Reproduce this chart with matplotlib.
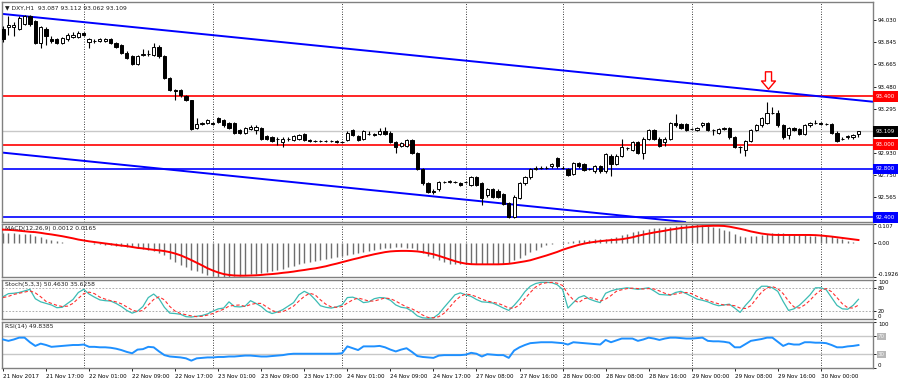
import numpy as np
import matplotlib.pyplot as plt
from matplotlib.path import Path
from matplotlib.transforms import blended_transform_factory

# DXY H1 candles, 21 Nov 09:00 .. 30 Nov 07:00 (weekend gap after bar 85)
opens = [93.96, 93.97, 93.97, 93.96, 94.00, 94.06, 94.02, 93.84, 93.96, 93.87,
         93.87, 93.84, 93.87, 93.89, 93.89, 93.92, 93.85, 93.86, 93.86, 93.86,
         93.87, 93.84, 93.82, 93.76, 93.73, 93.67, 93.74, 93.75, 93.74, 93.81,
         93.73, 93.55, 93.45, 93.45, 93.40, 93.37, 93.14, 93.17, 93.18, 93.18,
         93.22, 93.20, 93.18, 93.18, 93.12, 93.10, 93.13, 93.12, 93.14, 93.07,
         93.06, 93.05, 93.02, 93.05, 93.04, 93.05, 93.09, 93.04, 93.03, 93.03,
         93.03, 93.03, 93.03, 93.02, 93.04, 93.12, 93.07, 93.05, 93.09, 93.09,
         93.09, 93.11, 93.10, 93.02, 92.99, 92.99, 93.04, 92.93, 92.80, 92.68,
         92.62, 92.63, 92.69, 92.69, 92.69, 92.68, 92.69, 92.67, 92.73, 92.68,
         92.58, 92.63, 92.62, 92.59, 92.52, 92.40, 92.56, 92.68, 92.73, 92.80,
         92.81, 92.81, 92.82, 92.89, 92.81, 92.80, 92.76, 92.85, 92.84, 92.80,
         92.78, 92.82, 92.78, 92.91, 92.84, 92.91, 92.97, 92.96, 93.02, 92.93,
         93.05, 93.12, 93.05, 93.02, 93.05, 93.18, 93.17, 93.17, 93.13, 93.12,
         93.16, 93.18, 93.12, 93.10, 93.13, 93.14, 93.06, 92.98, 92.96, 93.03,
         93.12, 93.16, 93.18, 93.26, 93.26, 93.16, 93.08, 93.14, 93.13, 93.09,
         93.16, 93.18, 93.18, 93.17, 93.17, 93.10, 93.05, 93.06, 93.06, 93.087]
highs = [93.98, 94.06, 94.01, 94.06, 94.07, 94.07, 94.03, 93.98, 93.97, 93.90,
         93.88, 93.89, 93.92, 93.93, 93.94, 93.93, 93.88, 93.87, 93.88, 93.88,
         93.88, 93.85, 93.83, 93.77, 93.74, 93.74, 93.79, 93.78, 93.84, 93.82,
         93.74, 93.56, 93.46, 93.46, 93.41, 93.37, 93.22, 93.19, 93.21, 93.19,
         93.23, 93.21, 93.19, 93.19, 93.13, 93.15, 93.16, 93.16, 93.15, 93.08,
         93.07, 93.06, 93.06, 93.06, 93.08, 93.09, 93.10, 93.05, 93.04, 93.04,
         93.04, 93.04, 93.04, 93.03, 93.11, 93.13, 93.08, 93.12, 93.11, 93.10,
         93.14, 93.15, 93.11, 93.03, 93.02, 93.05, 93.05, 92.94, 92.81, 92.69,
         92.63, 92.70, 92.70, 92.71, 92.70, 92.69, 92.70, 92.74, 92.74, 92.69,
         92.64, 92.64, 92.63, 92.60, 92.53, 92.58, 92.69, 92.74, 92.81, 92.82,
         92.82, 92.82, 92.85, 92.90, 92.82, 92.81, 92.86, 92.86, 92.85, 92.81,
         92.83, 92.83, 92.93, 92.92, 92.92, 93.05, 92.98, 93.03, 93.03, 93.06,
         93.13, 93.13, 93.06, 93.06, 93.19, 93.25, 93.18, 93.18, 93.14, 93.15,
         93.19, 93.19, 93.13, 93.14, 93.15, 93.15, 93.07, 92.99, 93.04, 93.13,
         93.17, 93.23, 93.35, 93.31, 93.29, 93.17, 93.15, 93.15, 93.14, 93.17,
         93.19, 93.20, 93.19, 93.18, 93.18, 93.11, 93.06, 93.08, 93.09, 93.112]
lows = [93.85, 93.91, 93.90, 93.95, 93.99, 93.98, 93.83, 93.80, 93.82, 93.84,
        93.83, 93.83, 93.86, 93.88, 93.88, 93.90, 93.80, 93.84, 93.85, 93.85,
        93.83, 93.80, 93.75, 93.71, 93.66, 93.66, 93.73, 93.73, 93.73, 93.72,
        93.54, 93.44, 93.37, 93.39, 93.36, 93.12, 93.13, 93.16, 93.17, 93.16,
        93.18, 93.15, 93.13, 93.09, 93.09, 93.09, 93.12, 93.09, 93.04, 93.04,
        93.02, 93.00, 92.98, 93.03, 93.03, 93.04, 93.03, 93.02, 93.02, 93.02,
        93.02, 93.02, 93.01, 93.01, 93.03, 93.07, 93.03, 93.04, 93.08, 93.07,
        93.08, 93.08, 93.01, 92.93, 92.98, 92.98, 92.92, 92.79, 92.67, 92.60,
        92.59, 92.62, 92.68, 92.68, 92.68, 92.66, 92.68, 92.66, 92.66, 92.50,
        92.57, 92.56, 92.56, 92.50, 92.39, 92.39, 92.55, 92.67, 92.72, 92.79,
        92.80, 92.80, 92.81, 92.81, 92.80, 92.74, 92.75, 92.81, 92.78, 92.79,
        92.77, 92.77, 92.77, 92.74, 92.83, 92.90, 92.96, 92.95, 92.92, 92.88,
        93.04, 93.04, 92.98, 92.99, 93.04, 93.15, 93.13, 93.11, 93.12, 93.11,
        93.15, 93.11, 93.08, 93.09, 93.12, 93.05, 92.97, 92.93, 92.91, 93.02,
        93.11, 93.15, 93.17, 93.25, 93.15, 93.05, 93.05, 93.11, 93.08, 93.08,
        93.15, 93.17, 93.16, 93.16, 93.09, 93.02, 93.04, 93.05, 93.05, 93.062]
closes = [93.87, 93.99, 93.99, 94.05, 94.06, 94.00, 93.84, 93.97, 93.90, 93.86,
          93.84, 93.88, 93.91, 93.91, 93.92, 93.91, 93.87, 93.86, 93.87, 93.87,
          93.84, 93.81, 93.76, 93.72, 93.67, 93.73, 93.75, 93.75, 93.81, 93.73,
          93.55, 93.45, 93.44, 93.41, 93.37, 93.13, 93.17, 93.18, 93.20, 93.17,
          93.19, 93.16, 93.14, 93.10, 93.10, 93.14, 93.15, 93.15, 93.05, 93.05,
          93.03, 93.05, 93.05, 93.05, 93.07, 93.08, 93.04, 93.03, 93.03, 93.03,
          93.03, 93.03, 93.02, 93.02, 93.10, 93.08, 93.04, 93.11, 93.09, 93.08,
          93.11, 93.09, 93.02, 92.98, 93.01, 93.04, 92.93, 92.80, 92.68, 92.61,
          92.61, 92.69, 92.69, 92.70, 92.69, 92.67, 92.69, 92.73, 92.67, 92.56,
          92.63, 92.57, 92.57, 92.51, 92.40, 92.57, 92.68, 92.73, 92.80, 92.81,
          92.81, 92.81, 92.84, 92.82, 92.81, 92.75, 92.85, 92.82, 92.79, 92.80,
          92.82, 92.78, 92.92, 92.84, 92.91, 92.98, 92.97, 93.02, 92.93, 93.05,
          93.12, 93.05, 92.99, 93.05, 93.18, 93.16, 93.14, 93.12, 93.13, 93.14,
          93.18, 93.12, 93.12, 93.13, 93.14, 93.06, 92.98, 92.98, 93.03, 93.12,
          93.16, 93.22, 93.26, 93.26, 93.16, 93.06, 93.14, 93.12, 93.09, 93.16,
          93.18, 93.18, 93.17, 93.17, 93.10, 93.03, 93.05, 93.07, 93.08, 93.109]

macd_hist = [0.055, 0.055, 0.054, 0.053, 0.052, 0.048, 0.041, 0.033, 0.025, 0.018,
             0.011, 0.006, 0.002, 0.001, 0.001, 0.000, -0.003, -0.005, -0.006, -0.009,
             -0.012, -0.015, -0.018, -0.022, -0.025, -0.029, -0.033, -0.039, -0.046, -0.055,
             -0.069, -0.092, -0.110, -0.124, -0.138, -0.152, -0.161, -0.170, -0.179, -0.186,
             -0.190, -0.1926, -0.192, -0.189, -0.186, -0.182, -0.178, -0.175, -0.169, -0.163,
             -0.156, -0.151, -0.145, -0.138, -0.130, -0.121, -0.115, -0.109, -0.103, -0.097,
             -0.090, -0.085, -0.079, -0.074, -0.067, -0.062, -0.055, -0.050, -0.044, -0.040,
             -0.035, -0.031, -0.028, -0.025, -0.024, -0.026, -0.031, -0.041, -0.055, -0.072,
             -0.087, -0.099, -0.110, -0.118, -0.120, -0.119, -0.118, -0.118, -0.117, -0.118,
             -0.119, -0.120, -0.120, -0.118, -0.115, -0.097, -0.083, -0.069, -0.053, -0.039,
             -0.023, -0.012, -0.005, 0.000, 0.004, 0.007, 0.010, 0.014, 0.017, 0.019,
             0.020, 0.021, 0.023, 0.028, 0.035, 0.044, 0.052, 0.060, 0.066, 0.074,
             0.077, 0.082, 0.086, 0.089, 0.092, 0.098, 0.103, 0.107, 0.107, 0.105,
             0.101, 0.096, 0.089, 0.083, 0.074, 0.065, 0.051, 0.039, 0.035, 0.037,
             0.041, 0.046, 0.052, 0.055, 0.057, 0.057, 0.053, 0.049, 0.046, 0.043,
             0.039, 0.041, 0.045, 0.040, 0.037, 0.030, 0.023, 0.011, 0.006, 0.0012]
macd_signal = [0.075, 0.074, 0.072, 0.069, 0.066, 0.063, 0.061, 0.057, 0.052, 0.048,
               0.043, 0.038, 0.032, 0.026, 0.019, 0.014, 0.009, 0.005, 0.001, -0.003,
               -0.007, -0.011, -0.015, -0.018, -0.023, -0.028, -0.031, -0.035, -0.039, -0.042,
               -0.046, -0.052, -0.060, -0.070, -0.083, -0.097, -0.112, -0.127, -0.143, -0.156,
               -0.167, -0.176, -0.181, -0.184, -0.185, -0.185, -0.184, -0.183, -0.181, -0.178,
               -0.176, -0.173, -0.169, -0.166, -0.162, -0.157, -0.153, -0.148, -0.144, -0.138,
               -0.132, -0.124, -0.117, -0.109, -0.101, -0.093, -0.086, -0.078, -0.071, -0.064,
               -0.058, -0.052, -0.048, -0.046, -0.045, -0.045, -0.046, -0.048, -0.052, -0.058,
               -0.064, -0.073, -0.083, -0.093, -0.103, -0.111, -0.117, -0.120, -0.121, -0.121,
               -0.121, -0.121, -0.121, -0.120, -0.118, -0.114, -0.109, -0.104, -0.098, -0.089,
               -0.080, -0.071, -0.061, -0.051, -0.039, -0.029, -0.020, -0.011, -0.004, 0.002,
               0.006, 0.010, 0.013, 0.016, 0.018, 0.021, 0.026, 0.032, 0.040, 0.047,
               0.053, 0.059, 0.064, 0.069, 0.075, 0.079, 0.084, 0.087, 0.090, 0.093,
               0.095, 0.096, 0.097, 0.097, 0.096, 0.092, 0.086, 0.080, 0.073, 0.065,
               0.059, 0.053, 0.049, 0.046, 0.045, 0.045, 0.045, 0.045, 0.045, 0.045,
               0.045, 0.044, 0.042, 0.039, 0.036, 0.032, 0.028, 0.024, 0.020, 0.0165]

stoch_main = [57, 65, 66, 68, 72, 76, 52, 44, 40, 36,
              29, 30, 40, 50, 68, 76, 64, 56, 49, 47,
              46, 40, 32, 22, 15, 20, 32, 55, 64, 52,
              30, 15, 14, 12, 6, 5, 7, 9, 13, 20,
              26, 28, 44, 32, 31, 33, 47, 40, 32, 20,
              14, 18, 24, 33, 42, 62, 71, 64, 50, 34,
              30, 28, 31, 36, 55, 56, 51, 42, 44, 52,
              55, 54, 48, 36, 30, 28, 20, 8, 3, 2,
              3, 13, 30, 46, 62, 67, 62, 58, 50, 44,
              43, 41, 35, 28, 22, 35, 51, 70, 84, 91,
              94, 94, 93, 88, 76, 28, 42, 55, 60, 51,
              46, 42, 66, 72, 76, 78, 80, 78, 76, 78,
              80, 72, 63, 62, 61, 68, 71, 65, 58, 51,
              48, 44, 38, 34, 36, 38, 28, 17, 35, 50,
              72, 84, 84, 80, 71, 45, 22, 26, 35, 48,
              62, 80, 80, 75, 55, 35, 26, 25, 35, 50.46]
stoch_signal = [55, 58, 63, 66, 69, 72, 67, 57, 45, 40,
                35, 32, 33, 40, 53, 65, 69, 65, 56, 51,
                47, 44, 39, 31, 23, 19, 22, 36, 50, 57,
                49, 32, 20, 14, 11, 8, 6, 7, 10, 14,
                20, 25, 33, 35, 36, 32, 37, 40, 40, 31,
                22, 17, 19, 25, 33, 46, 58, 66, 62, 49,
                38, 31, 30, 32, 41, 49, 54, 50, 46, 46,
                50, 54, 52, 46, 38, 31, 26, 19, 10, 4,
                3, 6, 15, 30, 46, 58, 64, 62, 57, 51,
                46, 43, 40, 35, 28, 28, 36, 52, 68, 82,
                90, 93, 94, 92, 86, 64, 49, 42, 52, 55,
                52, 46, 51, 60, 71, 75, 78, 79, 78, 77,
                78, 77, 72, 66, 62, 64, 67, 68, 65, 58,
                52, 48, 43, 39, 36, 36, 34, 28, 27, 34,
                52, 69, 80, 83, 78, 65, 46, 31, 28, 36,
                48, 63, 74, 78, 70, 55, 39, 29, 28, 35.63]
rsi = [62, 59, 62, 66, 66, 56, 48, 53, 50, 46,
       47, 48, 49, 50, 50, 51, 46, 46, 45, 45,
       44, 42, 39, 35, 32, 40, 41, 46, 45, 36,
       28, 25, 24, 23, 21, 16, 21, 22, 23, 23,
       24, 24, 25, 25, 26, 27, 27, 26, 25, 25,
       26, 27, 28, 30, 31, 31, 31, 31, 31, 31,
       31, 31, 31, 32, 47, 43, 39, 47, 47, 47,
       48, 45, 40, 36, 40, 43, 35, 26, 24, 23,
       22, 27, 28, 28, 28, 28, 29, 33, 31, 25,
       30, 29, 28, 28, 22, 38, 45, 50, 54, 55,
       56, 56, 56, 55, 54, 51, 56, 55, 54, 53,
       52, 51, 61, 56, 60, 64, 64, 64, 59, 62,
       66, 64, 61, 64, 66, 66, 65, 64, 64, 65,
       66, 59, 58, 58, 57, 55, 45, 45, 52, 59,
       61, 63, 66, 66, 57, 48, 53, 51, 51, 56,
       56, 55, 55, 54, 50, 45, 45, 47, 48, 49.84]

day_starts = [15, 39, 63, 86, 104, 128, 152]
label_bars = [0, 8, 16, 24, 32, 40, 48, 56, 64, 72, 80, 88, 96, 104, 112, 120,
              128, 136, 144, 152]
time_labels = ['21 Nov 2017', '21 Nov 17:00', '22 Nov 01:00', '22 Nov 09:00',
               '22 Nov 17:00', '23 Nov 01:00', '23 Nov 09:00', '23 Nov 17:00',
               '24 Nov 01:00', '24 Nov 09:00', '24 Nov 17:00', '27 Nov 08:00',
               '27 Nov 16:00', '28 Nov 00:00', '28 Nov 08:00', '28 Nov 16:00',
               '29 Nov 00:00', '29 Nov 08:00', '29 Nov 16:00', '30 Nov 00:00']
price_ticks = [94.030, 93.845, 93.665, 93.480, 93.295, 92.930, 92.750, 92.565]
levels = {93.400: 'red', 93.000: 'red', 92.800: 'blue', 92.400: 'blue'}
last_price = 93.109
upper_trend = [(0, 94.080), (159, 93.367)]
lower_trend = [(0, 92.934), (100, 92.482)]

FS = 4.0
n = len(closes)
x = np.arange(n)
o, h, l, c = map(np.array, (opens, highs, lows, closes))

fig = plt.figure(figsize=(9, 3.83), dpi=100)
W, H = 900, 383


def panel(top, bottom, left=2, right=873, **kw):
    return fig.add_axes([left / W, 1 - bottom / H, (right - left) / W, (bottom - top) / H], **kw)


ax = panel(2, 222)
ax_m = panel(224, 277, sharex=ax)
ax_s = panel(280, 319, sharex=ax)
ax_r = panel(322, 368, sharex=ax)
axes = [ax, ax_m, ax_s, ax_r]

for a in axes:
    for sp in a.spines.values():
        sp.set_color('#808080')
        sp.set_linewidth(1.0)
    a.yaxis.tick_right()
    a.tick_params(axis='y', labelsize=FS, length=2, pad=1.5, width=0.6)
    a.tick_params(axis='x', bottom=False, labelbottom=False)
    for b in day_starts:
        a.axvline(b, color='black', ls=(0, (1, 2)), lw=0.6, zorder=1)

ax.set_xlim(-0.19, 161.7)

# ---- price panel
ax.set_ylim(92.361, 94.179)
ax.set_yticks(price_ticks)
ax.set_yticklabels([f'{t:.3f}' for t in price_ticks])
ax.axhline(last_price, color='#c8c8c8', lw=1, zorder=1)
for lv, col in levels.items():
    ax.axhline(lv, color=col, lw=1.2, zorder=2)
ax.axline(*upper_trend, color='#0000ff', lw=1.4, zorder=2)
ax.axline(*lower_trend, color='#0000ff', lw=1.4, zorder=2)

ax.vlines(x, l, h, color='black', lw=0.8, zorder=3)
up = c >= o
body_lo = np.minimum(o, c)
body_h = np.abs(c - o)
ax.bar(x[up], body_h[up], bottom=body_lo[up], width=0.6, facecolor='white',
       edgecolor='black', linewidth=0.7, zorder=4)
ax.bar(x[~up], body_h[~up], bottom=body_lo[~up], width=0.6, facecolor='black',
       edgecolor='black', linewidth=0.7, zorder=4)

# hollow down arrow above the 29 Nov high
arrow = Path([(-0.35, 1.0), (0.35, 1.0), (0.35, -0.06), (0.8, -0.06), (0.0, -1.0),
              (-0.8, -0.06), (-0.35, -0.06), (-0.35, 1.0)], closed=True)
ax.plot([142.2], [93.535], marker=arrow, ms=12.5, mfc='white', mec='red', mew=1.0,
        zorder=5)

ax.text(0.003, 0.985, '\u25bc DXY,H1  93.087 93.112 93.062 93.109', transform=ax.transAxes,
        fontsize=FS + 0.3, va='top', ha='left', color='#202020')

tr = blended_transform_factory(ax.transAxes, ax.transData)
for lv, col in list(levels.items()) + [(last_price, 'black')]:
    ax.text(1.0035, lv, f'{lv:.3f}', transform=tr, fontsize=FS, color='white',
            va='center', ha='left', clip_on=False, zorder=6,
            bbox=dict(boxstyle='square,pad=0.5', fc=col, ec='none'))

# ---- MACD
ax_m.set_ylim(-0.1926, 0.107)
ax_m.vlines(x, 0, macd_hist, color='#6e6e6e', lw=1.0, zorder=2)
ax_m.plot(x, macd_signal, color='#ff0000', lw=1.4, zorder=3)
ax_m.set_yticks([0.107, 0.0, -0.1926])
ax_m.set_yticklabels(['0.107', '0.00', '-0.1926'])
lbl = ax_m.get_yticklabels()
lbl[0].set_va('top')
lbl[2].set_va('bottom')
ax_m.text(0.004, 0.96, 'MACD(12,26,9) 0.0012 0.0165', transform=ax_m.transAxes,
          fontsize=FS + 0.3, va='top', color='#202020')

# ---- Stochastic
ax_s.set_ylim(0, 100)
for lv in (20, 80):
    ax_s.axhline(lv, color='#a0a0a0', ls=(0, (2, 2)), lw=0.6, zorder=1)
ax_s.plot(x, stoch_main, color='#3cbcb4', lw=0.9, zorder=3)
ax_s.plot(x, stoch_signal, color='#ff3030', lw=0.8, ls=(0, (3, 2)), zorder=3)
ax_s.set_yticks([100, 80, 20, 0])
ax_s.set_yticklabels(['100', '80', '20', '0'])
lbl = ax_s.get_yticklabels()
lbl[0].set_va('top')
lbl[3].set_va('bottom')
ax_s.text(0.004, 0.96, 'Stoch(5,3,3) 50.4630 35.6258', transform=ax_s.transAxes,
          fontsize=FS + 0.3, va='top', color='#202020')

# ---- RSI
ax_r.set_ylim(0, 100)
for lv in (30, 70):
    ax_r.axhline(lv, color='#c8c8c8', lw=1.0, zorder=1)
ax_r.plot(x, rsi, color='#1e90ff', lw=1.4, zorder=3)
ax_r.set_yticks([100, 70, 30, 0])
ax_r.set_yticklabels(['100', '70', '30', '0'])
lbl = ax_r.get_yticklabels()
lbl[0].set_va('top')
lbl[3].set_va('bottom')
for t in (lbl[1], lbl[2]):
    t.set_color('#f4f4f4')
    t.set_bbox(dict(boxstyle='square,pad=0.15', fc='#b8b8b8', ec='none'))
ax_r.text(0.004, 0.96, 'RSI(14) 49.8385', transform=ax_r.transAxes,
          fontsize=FS + 0.3, va='top', color='#202020')

ax_r.tick_params(axis='x', bottom=True, labelbottom=True, labelsize=4.1, length=2,
                 pad=2.5, width=0.6)
ax_r.set_xticks(label_bars)
ax_r.set_xticklabels(time_labels, ha='left')

fig.savefig('out.png', dpi=100, facecolor='white')
